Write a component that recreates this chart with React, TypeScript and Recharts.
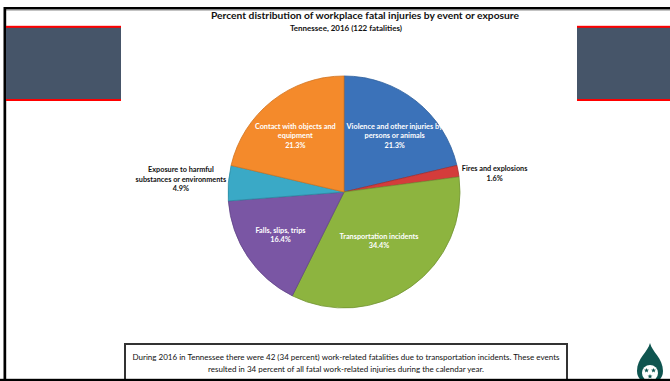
import React from 'react';
import { PieChart, Pie, Cell } from 'recharts';

// Event or exposure categories, clockwise from 12 o'clock
const categories = [
  'Violence and other injuries by persons or animals',
  'Fires and explosions',
  'Transportation incidents',
  'Falls, slips, trips',
  'Exposure to harmful substances or environments',
  'Contact with objects and equipment',
];
// Share of fatalities, percent
const percents = [21.3, 1.6, 34.4, 16.4, 4.9, 21.3];
// Label text split into lines
const labelLines = [
  ['Violence and other injuries by', 'persons or animals'],
  ['Fires and explosions'],
  ['Transportation incidents'],
  ['Falls, slips, trips'],
  ['Exposure to harmful', 'substances or environments'],
  ['Contact with objects and', 'equipment'],
];

const title = 'Percent distribution of workplace fatal injuries by event or exposure';
const subtitle = 'Tennessee, 2016 (122 fatalities)';
const noteLines = [
  'During 2016 in Tennessee there were 42 (34 percent) work-related fatalities due to transportation incidents.  These events',
  'resulted in 34 percent of all fatal work-related injuries during the calendar year.',
];

const data = categories.map((name, i) => ({ name, value: percents[i] }));

// Styling per slice
const colors = ['#3b72b9', '#d43c3b', '#8db43f', '#7a56a4', '#3aa9c6', '#f48a2b'];
const edgeColors = ['#2f5f9c', '#a82c2c', '#729433', '#604287', '#2b8ba3', '#d27320'];
const labelRadius = [0.62, 1.32, 0.52, 0.66, 1.41, 0.62];
const labelNudgeX = [6, 0, 0, 0, 0, -4];
const labelNudgeY = [0, 9, 0, 0, 0, 0];
const labelColor = ['#fff', '#111', '#fff', '#fff', '#111', '#fff'];

const FONT = 'Lato, "Open Sans", sans-serif';
const RAD = Math.PI / 180;

const renderLabel = (props: any) => {
  const { cx, cy, midAngle, outerRadius, index } = props;
  const r = outerRadius * labelRadius[index];
  const x = cx + r * Math.cos(-midAngle * RAD) + labelNudgeX[index];
  const y = cy + r * Math.sin(-midAngle * RAD) + labelNudgeY[index];
  const lines = [...labelLines[index], `${percents[index]}%`];
  const lh = 9.5;
  const y0 = y - ((lines.length - 1) * lh) / 2;
  return (
    <text
      key={`lbl-${index}`}
      x={x}
      y={y0}
      textAnchor="middle"
      fill={labelColor[index]}
      fontFamily={FONT}
      fontWeight={700}
      fontSize={7.3}
    >
      {lines.map((ln, k) => (
        <tspan key={k} x={x} y={y0 + k * lh} dominantBaseline="central">
          {ln}
        </tspan>
      ))}
    </text>
  );
};

const Star = ({ x, y, r }: { x: number; y: number; r: number }) => {
  const pts: string[] = [];
  for (let k = 0; k < 10; k++) {
    const rr = k % 2 === 0 ? r : r * 0.42;
    const a = -90 + k * 36;
    pts.push(`${x + rr * Math.cos(a * RAD)},${y + rr * Math.sin(a * RAD)}`);
  }
  return <polygon points={pts.join(' ')} fill="#0f5550" />;
};

export default function App() {
  return (
    <div
      style={{
        position: 'absolute',
        left: 0,
        top: 0,
        width: 670,
        height: 381,
        background: '#fff',
        overflow: 'hidden',
      }}
    >
      <svg width={670} height={381} style={{ position: 'absolute', left: 0, top: 0 }}>
        <rect x={0} y={0} width={670} height={381} fill="#fff" />
        {/* slide frame */}
        <rect x={4} y={7} width={666} height={2.5} fill="#000" />
        <rect x={4} y={9.5} width={666} height={1} fill="#888" />
        <rect x={3.5} y={7} width={2.7} height={374} fill="#000" />
        {/* side bands */}
        <rect x={6} y={27} width={115} height={73} fill="#465569" />
        <rect x={6} y={25.8} width={115} height={2} fill="#ff0000" />
        <rect x={6} y={99} width={115} height={2} fill="#ff0000" />
        <rect x={577} y={27} width={93} height={73} fill="#465569" />
        <rect x={577} y={25.8} width={93} height={2} fill="#ff0000" />
        <rect x={577} y={99} width={93} height={2} fill="#ff0000" />
        {/* titles */}
        <text
          x={365}
          y={15}
          textAnchor="middle"
          dominantBaseline="central"
          fontFamily={FONT}
          fontWeight={700}
          fontSize={10}
          fill="#111"
          textLength={308}
          lengthAdjust="spacingAndGlyphs"
        >
          {title}
        </text>
        <text
          x={346}
          y={28}
          textAnchor="middle"
          dominantBaseline="central"
          fontFamily={FONT}
          fontWeight={700}
          fontSize={7.5}
          fill="#111"
          textLength={112}
          lengthAdjust="spacingAndGlyphs"
        >
          {subtitle}
        </text>
        {/* note box */}
        <rect x={125} y={344} width={442} height={40} fill="#fff" stroke="#333" strokeWidth={2} />
        <text
          x={346}
          y={357}
          textAnchor="middle"
          dominantBaseline="central"
          fontFamily={FONT}
          fontSize={7.5}
          fill="#111"
          textLength={427}
          lengthAdjust="spacingAndGlyphs"
        >
          {noteLines[0]}
        </text>
        <text
          x={346}
          y={369.5}
          textAnchor="middle"
          dominantBaseline="central"
          fontFamily={FONT}
          fontSize={7.5}
          fill="#111"
          textLength={276}
          lengthAdjust="spacingAndGlyphs"
        >
          {noteLines[1]}
        </text>
        {/* logo */}
        <path
          d="M650 343 C652 352 663 358 663 371 A13 13 0 0 1 637 371 C637 358 648 352 650 343 Z"
          fill="#0f5550"
        />
        <circle cx={650} cy={373} r={8} fill="#fff" />
        <Star x={646.5} y={370.5} r={2.6} />
        <Star x={653.5} y={370.5} r={2.6} />
        <Star x={650} y={376.5} r={2.6} />
        <rect x={0} y={378.8} width={670} height={2.2} fill="#000" />
      </svg>
      <div style={{ position: 'absolute', left: 0, top: 0 }}>
        <PieChart width={670} height={381} margin={{ top: 0, right: 0, bottom: 0, left: 0 }}>
          <Pie
            data={data}
            dataKey="value"
            nameKey="name"
            cx={344}
            cy={192}
            outerRadius={116}
            startAngle={90}
            endAngle={-270}
            isAnimationActive={false}
            labelLine={false}
            label={renderLabel}
          >
            {data.map((d, i) => (
              <Cell key={d.name} fill={colors[i]} stroke={edgeColors[i]} strokeWidth={0.8} />
            ))}
          </Pie>
        </PieChart>
      </div>
    </div>
  );
}
